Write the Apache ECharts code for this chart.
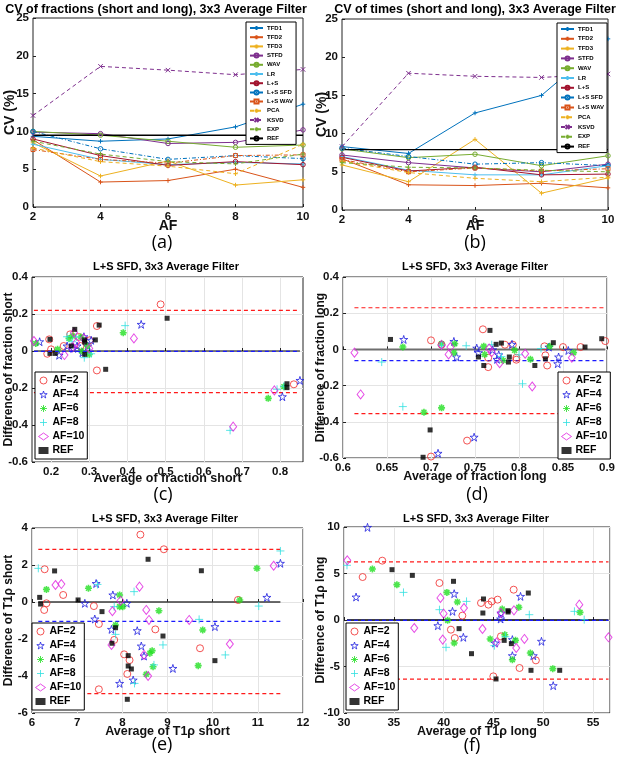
<!DOCTYPE html>
<html><head><meta charset="utf-8">
<script src="https://cdn.jsdelivr.net/npm/echarts@6/dist/echarts.min.js"></script>
<style>html,body{margin:0;padding:0;background:#fff}#c{width:619px;height:762px}</style>
</head><body><div id="c"></div>
<script>
// ---------------- DATA ----------------
const afValues = [2, 4, 6, 8, 10];
const methodNames = ['TFD1','TFD2','TFD3','STFD','WAV','LR','L+S','L+S SFD','L+S WAV','PCA','KSVD','EXP','REF'];

// (a) CV of fractions (%)
const fracTFD1   = [9.35, 8.7, 9.0, 10.6, 13.6];
const fracTFD2   = [8.9, 3.3, 3.5, 5.0, 2.6];
const fracTFD3   = [8.5, 4.1, 6.1, 2.9, 3.6];
const fracSTFD   = [9.9, 9.7, 8.4, 8.55, 10.2];
const fracWAV    = [10.0, 9.5, 8.7, 7.9, 8.2];
const fracLR     = [8.3, 6.3, 5.6, 5.9, 5.7];
const fracLS     = [9.0, 6.8, 5.5, 6.0, 5.6];
const fracLSSFD  = [10.0, 7.7, 6.3, 6.8, 6.4];
const fracLSWAV  = [7.6, 6.3, 5.8, 6.8, 6.9];
const fracPCA    = [7.8, 6.0, 5.4, 4.4, 8.3];
const fracKSVD   = [12.1, 18.6, 18.1, 17.5, 18.2];
const fracEXP    = [8.7, 7.0, 6.0, 5.7, 7.0];
const fracREF    = [9.5, 9.5, 9.5, 9.5, 9.5];

// (b) CV of times (%)
const timeTFD1   = [8.3, 7.4, 12.7, 15.0, 22.4];
const timeTFD2   = [6.7, 3.3, 3.2, 3.5, 2.9];
const timeTFD3   = [5.9, 3.7, 9.25, 2.2, 4.2];
const timeSTFD   = [7.2, 6.2, 5.5, 5.0, 6.0];
const timeWAV    = [8.0, 6.85, 7.3, 5.8, 7.1];
const timeLR     = [7.0, 5.2, 4.6, 4.6, 5.8];
const timeLS     = [6.9, 5.1, 5.6, 4.6, 4.7];
const timeLSSFD  = [8.1, 7.0, 6.0, 6.2, 5.8];
const timeLSWAV  = [6.6, 5.0, 5.5, 5.1, 5.4];
const timePCA    = [6.4, 4.9, 4.15, 3.7, 4.3];
const timeKSVD   = [8.3, 17.9, 17.5, 17.35, 17.8];
const timeEXP    = [6.2, 5.6, 5.5, 5.2, 5.0];
const timeREF    = [7.9, 7.9, 7.9, 7.9, 7.9];

const scatterNames = ['AF=2','AF=4','AF=6','AF=8','AF=10','REF'];

// (c) fraction short  [average, difference]
const cAF2  = [[0.487,0.252],[0.320,0.135],[0.320,-0.105],[0.836,-0.180],[0.195,0.063],[0.200,0.009],[0.190,-0.015],[0.233,0.027],[0.250,0.090],[0.272,0.076],[0.277,0.027],[0.301,0.058]];
const cAF4  = [[0.170,0.050],[0.436,0.144],[0.852,-0.159],[0.806,-0.247],[0.221,-0.023],[0.242,0.027],[0.268,0.027],[0.286,0.077],[0.296,0.027],[0.305,0.058],[0.282,-0.009],[0.258,0.014]];
const cAF6  = [[0.160,0.041],[0.389,0.099],[0.769,-0.256],[0.810,-0.193],[0.217,0.009],[0.247,0.068],[0.256,0.081],[0.278,0.076],[0.300,-0.018],[0.295,0.027],[0.280,0.000]];
const cAF8  = [[0.394,0.137],[0.669,-0.429],[0.266,0.076],[0.305,-0.015],[0.287,-0.036],[0.242,0.077],[0.810,-0.190],[0.792,-0.207],[0.255,0.050]];
const cAF10 = [[0.155,0.054],[0.417,0.068],[0.677,-0.409],[0.785,-0.213],[0.235,-0.022],[0.266,0.045],[0.286,0.068],[0.300,0.014],[0.255,0.018],[0.260,0.100]];
const cREF  = [[0.197,0.063],[0.262,0.117],[0.253,0.027],[0.288,0.060],[0.288,0.048],[0.288,-0.018],[0.316,0.060],[0.326,0.140],[0.343,-0.099],[0.504,0.177],[0.211,-0.013],[0.197,-0.013],[0.818,-0.177],[0.818,-0.198]];
const cLimits = [0.22, -0.225];
const cBias = -0.002;
const cXTicks = [0.2, 0.3, 0.4, 0.5, 0.6, 0.7, 0.8];

// (d) fraction long
const dAF2  = [[0.700,0.050],[0.741,-0.504],[0.700,-0.592],[0.759,0.111],[0.712,0.026],[0.765,-0.098],[0.765,-0.046],[0.784,0.026],[0.793,0.026],[0.797,-0.057],[0.797,-0.046],[0.830,-0.033],[0.832,-0.089],[0.850,0.013],[0.870,0.013],[0.898,0.046],[0.829,0.017]];
const dAF4  = [[0.669,0.055],[0.726,0.044],[0.729,-0.042],[0.752,0.007],[0.754,-0.018],[0.770,-0.002],[0.777,-0.030],[0.792,0.028],[0.845,-0.042],[0.844,-0.079],[0.856,-0.006],[0.834,0.013],[0.708,-0.574],[0.749,-0.485],[0.775,-0.055]];
const dAF6  = [[0.668,0.013],[0.712,0.031],[0.727,0.031],[0.726,-0.018],[0.760,0.018],[0.761,-0.028],[0.782,-0.061],[0.835,0.018],[0.813,-0.055],[0.862,-0.018],[0.692,-0.347],[0.712,-0.323],[0.795,-0.005]];
const dAF8  = [[0.644,-0.070],[0.769,0.026],[0.804,-0.190],[0.668,-0.316],[0.712,0.020],[0.740,0.020],[0.780,-0.040],[0.800,-0.030],[0.825,0.005]];
const dAF10 = [[0.613,-0.018],[0.722,0.013],[0.720,-0.028],[0.769,-0.015],[0.778,-0.076],[0.807,-0.024],[0.860,-0.046],[0.815,-0.205],[0.620,-0.249],[0.712,0.025],[0.766,0.005]];
const dREF  = [[0.654,0.055],[0.767,0.105],[0.774,0.028],[0.780,0.035],[0.754,-0.042],[0.760,-0.089],[0.789,-0.042],[0.818,-0.089],[0.830,-0.052],[0.839,0.037],[0.875,0.013],[0.894,0.059],[0.788,-0.070],[0.699,-0.445],[0.691,-0.596]];
const dLimits = [0.23, -0.355];
const dBias = -0.062;

// (e) T1rho short
const eAF2  = [[6.32,-0.07],[6.27,-0.43],[6.69,0.38],[7.37,-0.22],[7.48,-1.19],[7.82,-2.05],[8.04,-2.83],[8.16,-3.14],[8.11,-3.89],[7.48,-4.72],[8.73,-1.48],[9.72,-2.50],[6.28,1.77],[8.40,3.64],[8.92,2.85],[10.56,0.11]];
const eAF4  = [[7.42,1.00],[7.79,0.38],[7.17,-0.07],[8.10,-0.07],[7.39,-0.92],[7.76,-1.48],[8.33,-1.55],[8.42,-2.38],[8.48,-2.92],[8.24,-4.22],[7.94,-4.40],[9.12,-3.59],[10.05,-1.33],[11.20,0.25],[11.50,2.09]];
const eAF6  = [[6.32,0.68],[7.25,0.74],[7.94,0.38],[7.94,-0.25],[8.01,-0.25],[8.81,-0.47],[7.85,-1.24],[9.78,-1.51],[8.66,-2.63],[8.61,-2.77],[8.68,-3.50],[8.53,-3.91],[9.68,-3.44],[10.60,0.11],[10.98,1.82]];
const eAF8  = [[8.26,0.56],[7.82,-0.25],[7.85,-1.75],[8.90,-2.32],[9.70,-0.94],[10.28,-2.86],[11.02,-0.22],[8.70,-3.40],[8.27,-4.40],[6.14,1.82],[11.50,2.76],[7.45,0.95]];
const eAF10 = [[6.52,0.92],[6.65,0.97],[7.96,0.07],[7.76,-2.32],[8.53,-0.43],[8.59,-0.97],[8.48,-2.86],[8.57,-4.00],[9.48,-0.97],[10.38,-2.27],[8.38,0.83],[11.35,1.96],[7.78,-0.50]];
const eREF  = [[6.17,0.25],[6.19,-0.11],[7.02,0.11],[7.55,-0.52],[7.85,-1.39],[7.77,-2.23],[8.13,-2.90],[8.13,-3.46],[8.20,-3.62],[8.90,-1.84],[10.05,-3.17],[8.11,-5.26],[6.50,1.68],[8.57,2.31],[9.75,1.69]];
const eLimits = [2.85, -4.95];
const eBias = -1.05;

// (f) T1rho long
const fAF2  = [[31.87,4.62],[39.58,3.98],[41.88,0.47],[40.73,-1.04],[41.12,-1.94],[43.75,1.83],[44.50,1.65],[44.83,2.00],[45.42,2.19],[47.03,3.26],[45.75,-1.76],[47.62,-5.16],[49.26,-4.34],[44.99,-6.06],[33.84,6.38]];
const fAF4  = [[31.21,2.47],[39.42,-0.61],[41.06,2.83],[40.89,0.93],[41.98,-1.86],[45.75,0.75],[45.72,0.11],[47.72,2.54],[45.16,-2.47],[46.90,-2.11],[49.82,-2.29],[46.90,-3.84],[49.00,-3.84],[51.00,-7.06],[32.36,9.96]];
const fAF6  = [[32.85,5.48],[35.31,3.80],[40.33,2.97],[41.38,1.94],[40.40,-0.04],[41.06,-2.47],[44.67,-2.04],[45.88,1.18],[46.14,-1.58],[47.22,-2.19],[46.90,-4.27],[47.55,1.36],[48.70,-3.55],[50.96,-5.23],[53.69,0.82]];
const fAF8  = [[35.97,2.97],[39.58,1.11],[42.30,2.00],[40.24,-2.94],[45.09,-2.76],[48.60,0.57],[53.13,0.93],[54.11,0.04],[30.30,5.88],[46.20,-1.80]];
const fAF10 = [[37.05,-0.86],[39.68,2.37],[40.00,0.68],[39.91,-2.11],[42.04,1.29],[43.90,-0.97],[45.75,0.75],[47.06,1.04],[45.32,-2.40],[47.29,-3.01],[48.11,-2.04],[53.62,1.65],[56.55,-1.86],[30.33,6.42]];
const fREF  = [[34.82,5.41],[36.86,4.80],[40.99,4.16],[41.55,-0.93],[44.00,2.26],[43.94,0.75],[42.80,-3.62],[46.47,0.86],[46.47,1.00],[46.08,-2.19],[46.80,-2.54],[48.50,2.90],[48.77,-5.41],[51.65,-5.41],[45.26,-6.34]];
const fLimits = [6.25, -6.35];
const fBias = -0.05;

// ---------------- STYLE ----------------
const FONT = '"Liberation Sans", Arial, sans-serif';
const PLUS = 'path://M0,5L10,5M5,0L5,10';
const CROSS = 'path://M0,0L10,10M10,0L0,10';
const STAR = 'path://M10,0L12.25,6.91L19.51,6.91L13.63,11.18L15.88,18.09L10,13.82L4.12,18.09L6.37,11.18L0.49,6.91L7.75,6.91Z';
const AST = 'path://M0,5L10,5M5,0L5,10M1.5,1.5L8.5,8.5M8.5,1.5L1.5,8.5';

const methodStyles = [
  {c:'#0072BD', t:'solid', s:PLUS},
  {c:'#D95319', t:'solid', s:PLUS},
  {c:'#EDB120', t:'solid', s:PLUS},
  {c:'#7E2F8E', t:'solid', s:'circle'},
  {c:'#77AC30', t:'solid', s:'circle'},
  {c:'#4DBEEE', t:'solid', s:PLUS},
  {c:'#A2142F', t:'solid', s:'circle'},
  {c:'#0072BD', t:[4,2,1,2], s:'circle'},
  {c:'#D95319', t:[4,2,1,2], s:'rect'},
  {c:'#EDB120', t:[4,3], s:PLUS},
  {c:'#7E2F8E', t:[4,3], s:CROSS},
  {c:'#77AC30', t:[4,3], s:PLUS},
  {c:'#000000', t:'solid', s:'none'}
];
const scatterStyles = [
  {c:'#f02828', s:'circle', size:7, fill:false, bw:1},
  {c:'#2020e0', s:STAR, size:8, fill:false, bw:1},
  {c:'#22e022', s:AST, size:7, fill:false, bw:1.6},
  {c:'#30e0e0', s:PLUS, size:8, fill:false, bw:1},
  {c:'#e020e0', s:'diamond', size:[7,9], fill:false, bw:1},
  {c:'#000000', s:'rect', size:5, fill:true, bw:0}
];
// scatter REF gets a distinct internal series name so its legend icon is the square, not the line
const scatterSeriesName = n => (n === 'REF' ? 'REF ' : n);

const fracSets = [fracTFD1,fracTFD2,fracTFD3,fracSTFD,fracWAV,fracLR,fracLS,fracLSSFD,fracLSWAV,fracPCA,fracKSVD,fracEXP,fracREF];
const timeSets = [timeTFD1,timeTFD2,timeTFD3,timeSTFD,timeWAV,timeLR,timeLS,timeLSSFD,timeLSWAV,timePCA,timeKSVD,timeEXP,timeREF];
const scatterPanels = [
  {sets:[cAF2,cAF4,cAF6,cAF8,cAF10,cREF], lim:cLimits, bias:cBias, zeroColor:'#000', zeroW:1.2, biasOnTop:true},
  {sets:[dAF2,dAF4,dAF6,dAF8,dAF10,dREF], lim:dLimits, bias:dBias, zeroColor:'#6e6e6e', zeroW:2, biasOnTop:false},
  {sets:[eAF2,eAF4,eAF6,eAF8,eAF10,eREF], lim:eLimits, bias:eBias, zeroColor:'#3a3a3a', zeroW:1.3, biasOnTop:false},
  {sets:[fAF2,fAF4,fAF6,fAF8,fAF10,fREF], lim:fLimits, bias:fBias, zeroColor:'#000', zeroW:1.3, biasOnTop:true}
];

const grids = [
  {left:33, top:18, width:270, height:189},
  {left:342, top:19, width:266, height:191},
  {left:32, top:277, width:271, height:185},
  {left:343, top:277, width:264, height:181},
  {left:32, top:528, width:271, height:185},
  {left:344, top:527, width:266, height:186}
].map(g => Object.assign({show:true, borderColor:'#222', borderWidth:1, containLabel:false}, g));

const labelStyle = {color:'#111', fontFamily:FONT, fontWeight:'bold', fontSize:11.5, margin:4};
const tick = {show:true, inside:true, length:3, lineStyle:{color:'#222'}};
const nameStyle = {color:'#111', fontFamily:FONT, fontWeight:'bold', fontSize:12};

function xAxis(i, o) {
  return Object.assign({gridIndex:i, type:'value', nameLocation:'middle', nameMoveOverlap:false,
    nameTextStyle:Object.assign({}, nameStyle, o.nameSize?{fontSize:o.nameSize}:{}),
    axisLine:{show:false}, axisTick:tick, axisLabel:labelStyle,
    splitLine:{show:!!o.grid, lineStyle:{color:'#e4e4e4', width:1}}}, o.ax);
}
function yAxis(i, o) {
  return Object.assign({gridIndex:i, type:'value', nameLocation:'middle', nameRotate:90, nameMoveOverlap:false,
    nameTextStyle:Object.assign({}, nameStyle, o.nameSize?{fontSize:o.nameSize}:{}),
    axisLine:{show:false}, axisTick:tick, axisLabel:labelStyle,
    splitLine:{show:!!o.grid, lineStyle:{color:'#e4e4e4', width:1}}}, o.ax);
}

const xAxes = [
  xAxis(0, {nameSize:14, ax:{min:2, max:10, interval:2, name:'AF', nameGap:12}}),
  xAxis(1, {nameSize:14, ax:{min:2, max:10, interval:2, name:'AF', nameGap:9}}),
  xAxis(2, {grid:true, nameSize:12.5, ax:{min:0.15, max:0.86, name:'Average of fraction short', nameGap:10,
      axisLabel:Object.assign({}, labelStyle, {customValues:cXTicks}), axisTick:Object.assign({}, tick, {customValues:cXTicks})}}),
  xAxis(3, {grid:true, nameSize:12.5, ax:{min:0.6, max:0.9, interval:0.05, name:'Average of fraction long', nameGap:12}}),
  xAxis(4, {grid:true, nameSize:12.5, ax:{min:6, max:12, interval:1, name:'Average of T1\u03C1 short', nameGap:12}}),
  xAxis(5, {grid:true, nameSize:12.5, ax:{min:30, max:56.7, interval:5, name:'Average of T1\u03C1 long', nameGap:12,
      axisLabel:Object.assign({}, labelStyle, {showMaxLabel:false})}})
];
const yAxes = [
  yAxis(0, {nameSize:14, ax:{min:0, max:25, interval:5, name:'CV (%)', nameGap:16}}),
  yAxis(1, {nameSize:14, ax:{min:0, max:25, interval:5, name:'CV (%)', nameGap:13}}),
  yAxis(2, {grid:true, ax:{min:-0.6, max:0.4, interval:0.2, name:'Difference of fraction short', nameGap:17}}),
  yAxis(3, {grid:true, ax:{min:-0.6, max:0.4, interval:0.2, name:'Difference of fraction long', nameGap:16}}),
  yAxis(4, {grid:true, ax:{min:-6, max:4, interval:2, name:'Difference of T1\u03C1 short', nameGap:17}}),
  yAxis(5, {grid:true, ax:{min:-10, max:10, interval:5, name:'Difference of T1\u03C1 long', nameGap:17}})
];

const series = [];
[fracSets, timeSets].forEach((sets, gi) => {
  sets.forEach((vals, k) => {
    const st = methodStyles[k];
    series.push({
      type:'line', name:methodNames[k], xAxisIndex:gi, yAxisIndex:gi,
      data: afValues.map((a, j) => [a, vals[j]]),
      color: st.c,
      symbol: st.s, symbolSize: st.s === 'rect' ? 4 : 4.5, showSymbol: st.s !== 'none',
      lineStyle:{color:st.c, width: k === 12 ? 1.4 : 1, type:st.t},
      itemStyle:{color:'rgba(0,0,0,0)', borderColor:st.c, borderWidth:1},
      emphasis:{disabled:true}, animation:false, z: 3
    });
  });
});

scatterPanels.forEach((p, pi) => {
  const gi = pi + 2;
  const all = [].concat(...p.sets);
  const xs = all.map(d => d[0]);
  const x0 = Math.min(...xs), x1 = Math.max(...xs);
  const ref = (y, color, type, w, z) => ({
    type:'line', xAxisIndex:gi, yAxisIndex:gi, data:[[x0, y],[x1, y]], showSymbol:false, symbol:'none',
    lineStyle:{color, type, width:w}, silent:true, animation:false, z, emphasis:{disabled:true}
  });
  series.push(ref(0, p.zeroColor, 'solid', p.zeroW, 2));
  series.push(ref(p.bias, '#1a1aff', [4,3], 1.2, p.biasOnTop ? 3 : 2));
  series.push(ref(p.lim[0], '#ff1a1a', [4,3], 1.2, 2));
  series.push(ref(p.lim[1], '#ff1a1a', [4,3], 1.2, 2));
  p.sets.forEach((pts, k) => {
    const st = scatterStyles[k];
    series.push({
      type:'scatter', name:scatterSeriesName(scatterNames[k]), xAxisIndex:gi, yAxisIndex:gi, data:pts,
      symbol:st.s, symbolSize:st.size, color:st.c,
      itemStyle: st.fill ? {color:st.c} : {color:'rgba(0,0,0,0)', borderColor:st.c, borderWidth:st.bw},
      emphasis:{disabled:true}, animation:false, z: 2
    });
  });
});

function lineLegend(left, top, gap) {
  return {data:methodNames, orient:'vertical', left, top, itemWidth:13, itemHeight:5, itemGap:gap,
    padding:[3,3,3,3], backgroundColor:'#fff', borderColor:'#000', borderWidth:1, selectedMode:false,
    textStyle:{fontSize:6, fontWeight:'bold', fontFamily:FONT, color:'#000', padding:[0,0,0,-1]}, z:10};
}
function scatterLegend(left, top) {
  return {data:scatterNames.map(scatterSeriesName), orient:'vertical', left, top, itemWidth:10, itemHeight:7, itemGap:3,
    padding:[3,3,3,3], backgroundColor:'#fff', borderColor:'#000', borderWidth:1, selectedMode:false,
    itemStyle:{borderWidth:1},
    textStyle:{fontSize:10.5, fontWeight:'bold', fontFamily:FONT, color:'#000', padding:[0,0,0,-1]}, z:10};
}

function txt(x, y, text, font) {
  return {type:'text', x, y, z:20, style:{text, font, fill:'#000', textAlign:'center', textVerticalAlign:'middle', align:'center', verticalAlign:'middle'}};
}
const TF = 'bold 12.5px ' + FONT;
const SF = 'bold 11px ' + FONT;
const PF = '18px "Open Sans", "Noto Sans", sans-serif';

const option = {
  backgroundColor:'#fff',
  animation:false,
  grid:grids, xAxis:xAxes, yAxis:yAxes, series,
  legend:[lineLegend(246, 22, 3.2), lineLegend(557, 23, 3.8),
          scatterLegend(35, 372), scatterLegend(558, 372), scatterLegend(32, 623), scatterLegend(346, 623)],
  graphic:[
    txt(156, 10, 'CV of fractions (short and long), 3x3 Average Filter', TF),
    txt(475, 10, 'CV of times (short and long), 3x3 Average Filter', TF),
    txt(166, 267, 'L+S SFD, 3x3 Average Filter', SF),
    txt(475, 267, 'L+S SFD, 3x3 Average Filter', SF),
    txt(165, 519, 'L+S SFD, 3x3 Average Filter', SF),
    txt(476, 519, 'L+S SFD, 3x3 Average Filter', SF),
    txt(162, 243, '(a)', PF),
    txt(475, 243, '(b)', PF),
    txt(163, 495, '(c)', PF),
    txt(477, 495, '(d)', PF),
    txt(162, 745, '(e)', PF),
    txt(472, 746, '(f)', PF)
  ]
};
const chart = echarts.init(document.getElementById('c'), null, {renderer:'canvas'});
chart.setOption(option);
</script></body></html>
